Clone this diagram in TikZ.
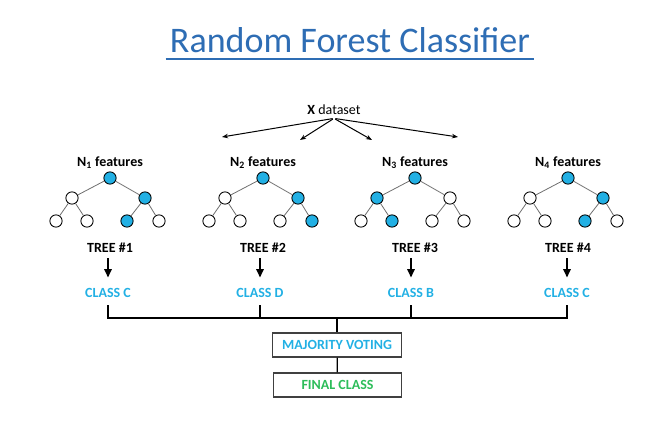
\documentclass[tikz,border=0pt]{standalone}
\usepackage{fontspec}
\setmainfont{Carlito}
\usepackage{tikz}
\usetikzlibrary{arrows.meta,positioning,calc}
\definecolor{cTitle}{HTML}{2E6DB4}
\definecolor{cCyan}{HTML}{22B0E4}
\definecolor{cGreen}{HTML}{2DBD5A}
\definecolor{cEdge}{HTML}{6E6E6E}
\definecolor{cBox}{HTML}{404040}

\begin{document}
\begin{tikzpicture}[x=0.75pt, y=-0.75pt, font=\fontsize{10.5}{12}\selectfont\bfseries, >={Stealth[length=1.6mm]},
    leaf/.style={circle, draw=black, line width=0.65pt, minimum size=9.2pt, inner sep=0pt},
    lbl/.style={anchor=base, inner sep=3pt},
    cls/.style={anchor=base, inner xsep=3pt, inner ysep=6pt, text=cCyan},
    votebox/.style={draw=cBox, line width=0.9pt, minimum width=96.5pt, minimum height=18pt, inner sep=0pt}]
    \useasboundingbox (0,0) rectangle (667,439);

    % title
    \node[font=\fontsize{27}{32}\selectfont, text=cTitle, anchor=base, inner xsep=3pt, inner ysep=5pt] (title) at (350,52) {Random Forest Classifier};
    \draw[cTitle, line width=1.1pt] (title.south west) -- (title.south east);

    % dataset split
    \node[lbl, font=\fontsize{10.5}{12}\selectfont] (data) at (334,114) {\textbf{X} dataset};
    \foreach \n/\x/\y in {1/222/137, 2/300/140, 3/372/140, 4/458/137} {
      \coordinate (d\n) at (\x,\y);
      \draw[->, line width=0.75pt, shorten <=1pt] (data.south) -- (d\n);
    }

    % the four trees
    \foreach \i/\x/\fL/\fR/\fLL/\fLR/\fRL/\fRR in {1/110/white/cCyan/white/white/cCyan/white,
        2/263/white/cCyan/white/white/white/cCyan, 3/415/cCyan/white/white/cCyan/white/white,
        4/568/white/cCyan/white/white/cCyan/white} {
      \node[lbl] (n\i) at (\x,166) {N\textsubscript{\i} features};
      \node[leaf, fill=cCyan] (r\i) at (\x,178) {};
      \node[leaf, fill=\fL]  (l\i)  at (\x-38,198) {};
      \node[leaf, fill=\fR]  (rt\i) at (\x+35,198) {};
      \node[leaf, fill=\fLL] (ll\i) at (\x-54,221) {};
      \node[leaf, fill=\fLR] (lr\i) at (\x-23,221) {};
      \node[leaf, fill=\fRL] (rl\i) at (\x+17,221) {};
      \node[leaf, fill=\fRR] (rr\i) at (\x+49,221) {};
      \draw[cEdge, line width=0.6pt] (r\i) -- (l\i) (r\i) -- (rt\i) (l\i) -- (ll\i) (l\i) -- (lr\i)
        (rt\i) -- (rl\i) (rt\i) -- (rr\i);
      \node[lbl] (t\i) at (\x,252) {TREE \#\i};
    }

    % votes
    \foreach \i/\x/\c in {1/108/C, 2/260/D, 3/411/B, 4/567/C} {
      \node[cls] (c\i) at (\x,297) {CLASS \c};
      \draw[-{Triangle[length=2.2mm,width=1.9mm]}, line width=1.4pt, shorten <=1.5pt, shorten >=1.5pt]
        (t\i.south -| c\i) -- (c\i.north);
    }

    \coordinate (bus) at (337,318);
    \draw[line width=0.9pt] (c1.south) |- (bus) -| (c4.south);
    \draw[line width=0.9pt] (c2.south) -- (c2.south |- bus);
    \draw[line width=0.9pt] (c3.south) -- (c3.south |- bus);

    \node[votebox, text=cCyan] (vote) at (337,345) {MAJORITY VOTING};
    \node[votebox, text=cGreen] (final) at (337.5,385) {FINAL CLASS};
    \draw[line width=0.9pt] (bus) -- (vote);
    \draw[line width=0.9pt] (vote) -- (final);
  \end{tikzpicture}
\end{document}
